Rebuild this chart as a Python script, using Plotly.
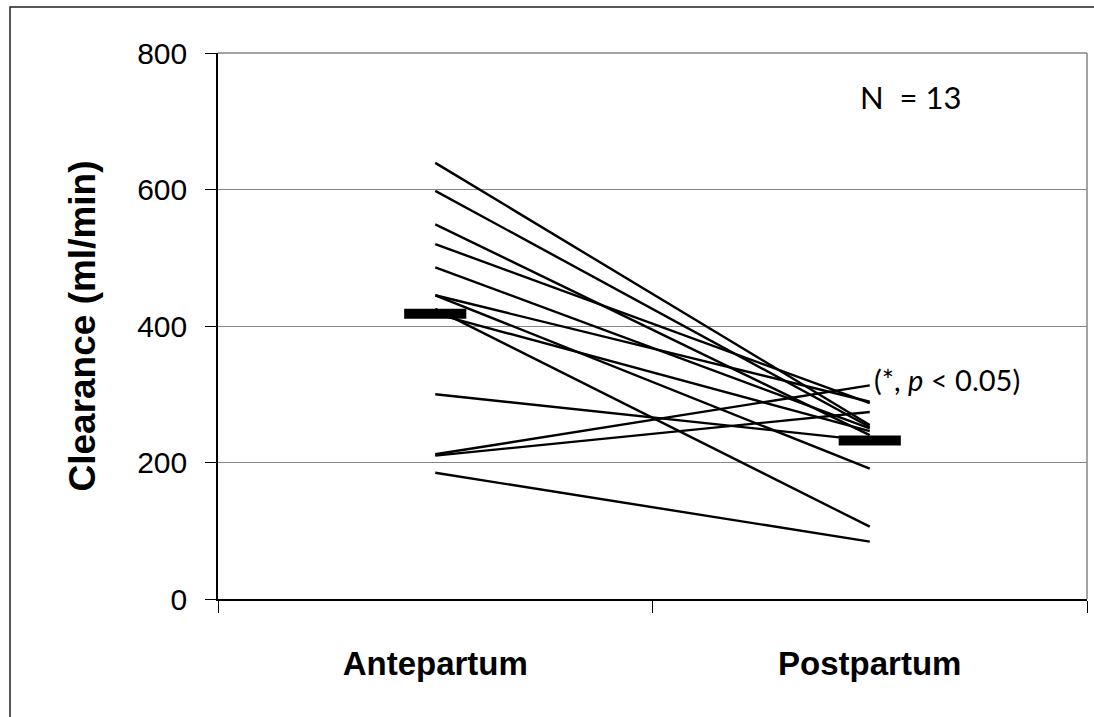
import plotly.graph_objects as go

categories = ["Antepartum", "Postpartum"]
antepartum = [639, 598, 549, 520, 486, 445, 445, 418, 425, 300, 212, 210, 185]
postpartum = [255, 252, 240, 287, 250, 289, 191, 246, 106, 232, 313, 274, 84]
y_ticks = [0, 200, 400, 600, 800]

W, H = 1094, 717
ML, MR, MT, MB = 218, 7, 53, 118
pw, ph = W - ML - MR, H - MT - MB

fig = go.Figure()
for a, p in zip(antepartum, postpartum):
    fig.add_trace(go.Scatter(x=[0, 1], y=[a, p], mode="lines",
                             line=dict(color="black", width=2.4),
                             showlegend=False, hoverinfo="skip"))

half = 0.0715
for i, vals in enumerate([antepartum, postpartum]):
    m = sum(vals) / len(vals)
    fig.add_trace(go.Scatter(x=[i - half, i + half], y=[m, m], mode="lines",
                             line=dict(color="black", width=10),
                             showlegend=False, hoverinfo="skip"))

def px2paper_x(px):
    return (px - ML) / pw

def px2paper_y(py):
    return (H - MB - py) / ph

fig.update_layout(
    width=W, height=H,
    margin=dict(l=ML, r=MR, t=MT, b=MB),
    paper_bgcolor="white", plot_bgcolor="white",
    font=dict(family="Arial, Liberation Sans", color="black"),
    xaxis=dict(range=[-0.5, 1.5], tickvals=[0, 1], ticktext=categories,
               ticks="", showgrid=False, zeroline=False,
               showline=True, linecolor="black", linewidth=1.5,
               tickfont=dict(size=33, family="Arial, Liberation Sans", weight="bold"),
               ticklabelstandoff=35,
               minor=dict(tickvals=[-0.5, 0.5, 1.5], ticks="outside", ticklen=12,
                          tickcolor="black", tickwidth=1, showgrid=False)),
    yaxis=dict(range=[0, 800], tickvals=y_ticks, ticks="outside", ticklen=11,
               tickcolor="black", tickwidth=1,
               showgrid=True, gridcolor="#868686", gridwidth=1,
               zeroline=False, showline=True, linecolor="black", linewidth=1.5,
               tickfont=dict(size=30), ticklabelstandoff=12,
               title=dict(text="Clearance (ml/min)", standoff=30,
                          font=dict(size=37, weight="bold"))),
    shapes=[
        dict(type="line", xref="paper", yref="paper", x0=1, x1=1, y0=0, y1=1,
             line=dict(color="#868686", width=1.5)),
        dict(type="line", xref="paper", yref="paper", x0=0, x1=1, y0=1, y1=1,
             line=dict(color="#868686", width=1.5)),
        dict(type="rect", xref="paper", yref="paper",
             x0=px2paper_x(10), x1=px2paper_x(1110),
             y0=px2paper_y(730), y1=px2paper_y(7),
             line=dict(color="#222222", width=1.5), layer="below"),
    ],
    annotations=[
        dict(x=0.972, y=735, xref="x", yref="y", text="N  = 13", showarrow=False,
             xanchor="left", yanchor="middle",
             font=dict(family="Lato, Open Sans", size=31, color="black")),
        dict(x=1.006, y=321, xref="x", yref="y", text="(*, <i>p</i> < 0.05)",
             showarrow=False, xanchor="left", yanchor="middle",
             font=dict(family="Lato, Open Sans", size=29, color="black")),
    ],
)

fig.write_html("out.html")
